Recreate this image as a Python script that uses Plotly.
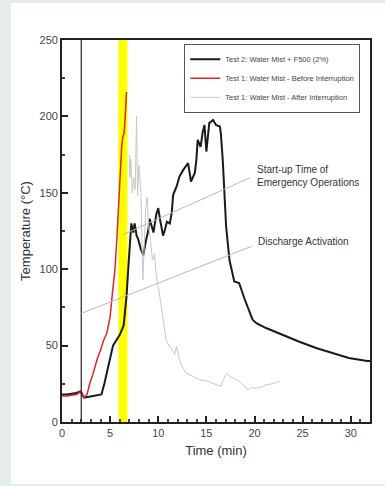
import plotly.graph_objects as go

# ---- data ----
t2_time = [0, 0.5, 1.0, 1.5, 1.9, 2.0, 2.3, 2.8, 3.3, 3.8, 4.1, 4.4, 4.7, 5.0, 5.3, 5.7, 6.0, 6.4,
           6.7, 6.9, 7.05, 7.2, 7.4, 7.55, 7.75, 7.9, 8.2, 8.45, 8.7, 8.95, 9.1, 9.3, 9.5, 9.8, 10.0,
           10.2, 10.5, 10.7, 10.9, 11.2, 11.4, 11.55, 11.9, 12.2, 12.6, 13.1, 13.4, 13.8, 13.96, 14.1,
           14.4, 14.6, 14.8, 15.0, 15.3, 15.7, 16.0, 16.4, 16.5, 16.7, 17.05, 17.4, 17.9, 18.4, 19.0,
           19.8, 20.2, 21.2, 22.9, 24.6, 26.4, 28.1, 29.8, 31.7, 32]
t2_temp = [18, 18, 18.5, 19, 20, 19, 16, 16.5, 17, 17.5, 18, 25, 33, 40, 50, 54, 57, 63,
           82, 102, 120, 130, 124, 130, 122, 120, 113, 109, 118, 125, 133, 128, 124, 136, 140,
           132, 122, 126, 131, 130, 137, 148.7, 154, 160.6, 165, 169.4, 157.4, 163, 171.6, 184.6,
           180, 189, 194.4, 177, 195.6, 197.7, 194.4, 193.4, 189, 171.6, 128, 106, 92, 91, 80,
           67, 64.7, 61.5, 57, 52.7, 48.4, 45, 41.9, 40, 40]

t1b_time = [0, 0.5, 1.0, 1.5, 2.0, 2.3, 2.6, 2.9, 3.2, 3.4, 3.7, 4.0, 4.3, 4.65, 5.0, 5.25, 5.5,
            5.7, 5.85, 6.03, 6.1, 6.2, 6.3, 6.45, 6.55, 6.7]
t1b_temp = [17, 17, 17.5, 18, 20, 16, 18, 25.5, 31, 36, 42, 47, 53, 58, 69, 85, 99.6,
            120, 141, 160.6, 165, 180, 186, 189, 197.7, 216]

t1a_time = [7.0, 7.05, 7.15, 7.3, 7.45, 7.6, 7.75, 7.85, 8.0, 8.2, 8.4, 8.55, 8.7, 8.85, 9.0, 9.2,
            9.4, 9.6, 9.8, 10.1, 10.5, 10.8, 11.1, 11.5, 11.7, 11.9, 12.2, 12.5, 12.9, 13.5, 14.3,
            15.0, 15.7, 16.5, 16.8, 17.1, 17.4, 17.7, 18.0, 18.4, 18.9, 19.3, 19.7, 20.2, 20.7,
            21.2, 21.8, 22.6]
t1a_temp = [175, 160, 172, 150, 160, 152, 200, 148, 168, 150, 93, 120, 140, 147, 128, 118,
            106, 110, 95, 85, 69, 54, 50, 47, 44, 49.5, 40.7, 36, 32, 30, 27.7,
            27, 25.5, 23.3, 28, 32, 30, 28.8, 28, 26.6, 24, 21, 22.5, 22.2, 23,
            24.4, 25, 26.6]

series_names = ["Test 2: Water Mist + F500 (2%)",
                "Test 1: Water Mist - Before Interruption",
                "Test 1: Water Mist - After Interruption"]

activation_time = 2.0
startup_window = [5.85, 6.8]

x_ticks = [0, 5, 10, 15, 20, 25, 30]
y_ticks = [0, 50, 100, 150, 200, 250]

font = "Liberation Sans, Arial, sans-serif"

W, H = 385, 486
ML, MR, MT, MB = 62, 15, 40, 64
pw, ph = W - ML - MR, H - MT - MB


def px_to_paper_x(px):
    return (px - ML) / pw


def px_to_paper_y(py):
    return (H - MB - py) / ph


fig = go.Figure()
fig.add_trace(go.Scatter(x=t2_time, y=t2_temp, mode="lines", name=series_names[0],
                         line=dict(color="#1a1a1a", width=2)))
fig.add_trace(go.Scatter(x=t1b_time, y=t1b_temp, mode="lines", name=series_names[1],
                         line=dict(color="#e0242a", width=1.5)))
fig.add_trace(go.Scatter(x=t1a_time, y=t1a_temp, mode="lines", name=series_names[2],
                         line=dict(color="#c8c8c8", width=1)))

# white card on light background
fig.add_shape(type="rect", xref="paper", yref="paper",
              x0=px_to_paper_x(11), x1=px_to_paper_x(W + 2),
              y0=px_to_paper_y(484), y1=px_to_paper_y(3),
              fillcolor="white", line=dict(width=0), layer="below")
# yellow start-up band
fig.add_shape(type="rect", xref="x", yref="paper", x0=startup_window[0], x1=startup_window[1],
              y0=0, y1=1, fillcolor="#ffff00", line=dict(width=0), layer="below")
# activation line
fig.add_shape(type="line", xref="x", yref="paper", x0=activation_time, x1=activation_time,
              y0=0, y1=1, line=dict(color="#222222", width=1.2))

# annotation leader lines
fig.add_shape(type="line", xref="x", yref="y", x0=6.3, y0=122.5, x1=19.5, y1=159.8,
              line=dict(color="#b8b8b8", width=1))
fig.add_shape(type="line", xref="x", yref="y", x0=1.9, y0=70.8, x1=19.7, y1=115,
              line=dict(color="#b8b8b8", width=1))

fig.add_annotation(x=20.0, y=161, xref="x", yref="y", xanchor="left", yanchor="middle",
                   text="Start-up Time of<br>Emergency Operations", showarrow=False, align="left",
                   font=dict(family=font, size=10, color="#333333"))
fig.add_annotation(x=20.2, y=118, xref="x", yref="y", xanchor="left", yanchor="middle",
                   text="Discharge Activation", showarrow=False, align="left",
                   font=dict(family=font, size=10, color="#333333"))

fig.update_layout(
    width=W, height=H,
    margin=dict(l=ML, r=MR, t=MT, b=MB),
    paper_bgcolor="#e4ecec",
    plot_bgcolor="white",
    font=dict(family=font, color="#333333"),
    showlegend=True,
    legend=dict(x=0.397, y=0.99, xanchor="left", yanchor="top",
                bgcolor="white", bordercolor="#555555", borderwidth=1,
                font=dict(family=font, size=7.5, color="#444444"),
                itemwidth=30, tracegroupgap=0),
)
fig.update_xaxes(range=[0, 32], tickvals=x_ticks, ticks="inside", ticklen=6, tickwidth=1.5,
                 tickcolor="#222222", showline=True, linecolor="#222222", linewidth=1.8,
                 mirror=True, showgrid=False, zeroline=False,
                 minor=dict(dtick=1, ticks="inside", ticklen=3, tickcolor="#444444"),
                 tickfont=dict(size=11, color="#444444"),
                 title=dict(text="Time (min)", font=dict(size=13, color="#333333"), standoff=8))
fig.update_yaxes(range=[0, 250], tickvals=y_ticks, ticks="inside", ticklen=6, tickwidth=1.5,
                 tickcolor="#222222", showline=True, linecolor="#222222", linewidth=1.8,
                 mirror=True, showgrid=False, zeroline=False,
                 minor=dict(dtick=25, ticks="inside", ticklen=3, tickcolor="#444444"),
                 tickfont=dict(size=11, color="#444444"),
                 title=dict(text="Temperature (°C)", font=dict(size=13, color="#333333"), standoff=6))

fig.write_html("out.html")
